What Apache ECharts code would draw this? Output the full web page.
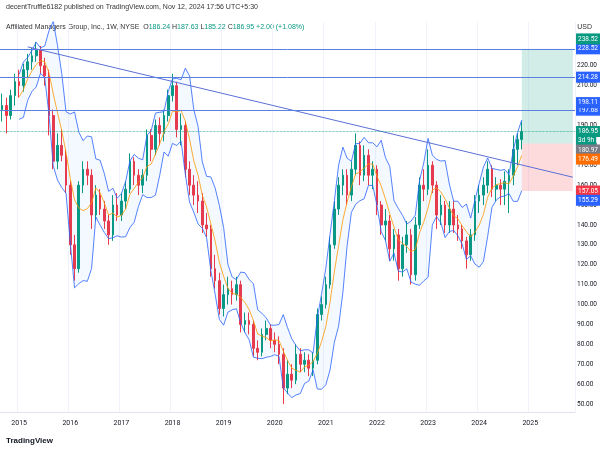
<!DOCTYPE html>
<html><head><meta charset="utf-8">
<script src="https://cdn.jsdelivr.net/npm/echarts@6/dist/echarts.min.js"></script>
<style>html,body{margin:0;padding:0;background:#fff}#c{width:600px;height:452px}</style>
</head><body><div id="c"></div>
<script>
const closes = [200,195,205,212,
210,218,222,225,228,220,215,195,172,180,175,160,
130,118,160,168,165,145,155,148,142,135,150,145,
152,158,172,165,160,165,185,178,190,186,195,205,
210,188,190,168,160,155,152,140,138,118,112,98,
105,108,105,110,90,92,90,78,76,85,88,82,
80,75,58,65,62,75,70,72,68,72,95,100,
110,130,148,160,165,155,168,180,165,175,165,168,
150,140,142,128,135,118,130,135,115,140,160,158,
170,160,145,150,140,148,140,138,132,125,135,152,
155,160,168,158,160,158,162,165,178,183,187];
const highs = [206,204,208,216,
218,221,226,229,232,230,224,218,198,186,188,178,
162,135,162,172,172,168,160,158,152,145,155,156,
156,162,176,174,168,168,188,188,193,194,198,208,
216,212,196,192,172,165,162,156,146,140,125,116,
110,114,112,114,112,96,96,92,82,88,92,90,
86,84,78,72,70,80,78,76,75,76,98,104,
114,134,152,164,168,168,172,186,182,180,178,172,
170,152,148,145,138,138,134,142,138,144,164,168,
178,172,162,155,152,152,152,145,140,134,138,155,
160,164,172,170,164,163,167,168,185,186,192];
const lows = [192,186,193,200,
204,207,214,218,222,216,210,185,168,168,172,156,
125,112,116,156,160,138,142,145,138,130,132,142,
142,148,156,160,155,156,162,172,175,180,182,192,
202,184,180,164,155,150,146,136,134,114,108,95,
94,100,100,102,86,86,85,74,72,74,82,78,
76,70,50,55,58,60,66,66,64,64,70,92,
98,108,128,145,155,150,152,165,160,162,160,158,
145,135,132,122,122,112,114,126,110,112,138,152,
155,156,138,140,136,136,136,132,128,118,122,132,
146,150,156,154,152,150,150,146,160,170,178];
const startYear = 2014, startMonth = 9, extraMonths = 12;
const tradeLevels = {tp3:228.52, tp2:214.28, tp1:197.68, last:186.95, entry:180.97, sl:157.05};

const cats = [];
{let y=startYear,m=startMonth; for(let i=0;i<closes.length+extraMonths;i++){cats.push(y+'-'+String(m).padStart(2,'0')); m++; if(m>12){m=1;y++;}}}
const candles = closes.map((c,i)=>[i?closes[i-1]:198, c, lows[i], highs[i]]);
const W=5, ma=[], up=[], lo=[], diff=[];
closes.forEach((c,i)=>{ if(i<W-1){ma.push('-');up.push('-');lo.push('-');diff.push('-');return;}
  const s=closes.slice(i-W+1,i+1); const m=s.reduce((a,b)=>a+b)/W;
  const sd=Math.sqrt(s.reduce((a,b)=>a+(b-m)*(b-m),0)/W);
  ma.push(m); up.push(m+1.8*sd); lo.push(m-1.8*sd); diff.push(3.6*sd);});

const lab=(txt,col)=>({show:true,position:'end',formatter:txt,backgroundColor:col,color:'#fff',fontSize:6.5,padding:[2,2],distance:1});
const badge=(v,col,txt)=>({yAxis:v,lineStyle:{color:'rgba(0,0,0,0)',width:0},label:lab(txt||v.toFixed(2),col)});
const hl=(v,col,type,w)=>({yAxis:v,lineStyle:{color:col,width:w||1,type:type||'solid'},label:lab(v.toFixed(2),col==='#5b7fe0'?'#2962ff':col)});
const chart=echarts.init(document.getElementById('c'));
chart.setOption({
  animation:false,
  textStyle:{fontFamily:'Roboto, sans-serif'},
  graphic:[
    {type:'text',left:6,top:4,style:{text:'decentTruffle6182 published on TradingView.com, Nov 12, 2024 17:56 UTC+5:30',fontSize:7,fill:'#333'}},
    {type:'text',left:6,top:24,style:{rich:{a:{fontSize:7,fill:'#333'},g:{fontSize:7,fill:'#089981'}},text:'{a|Affiliated Managers Group, Inc., 1W, NYSE  O}{g|186.24 }{a|H}{g|187.63 }{a|L}{g|185.22 }{a|C}{g|186.95 +2.00 (+1.08%)}'}},
    {type:'text',left:6,top:437,style:{text:'TradingView',fontSize:8,fill:'#131722',fontWeight:'bold'}},
    {type:'text',right:8,top:24,style:{text:'USD',fontSize:7,fill:'#333'}}
  ],
  grid:{left:0,right:22,top:22,bottom:40},
  xAxis:{type:'category',data:cats,boundaryGap:true,
    axisLine:{lineStyle:{color:'#e0e3eb'}},axisTick:{show:false},
    axisLabel:{fontSize:7,color:'#131722',interval:(i,v)=>v.endsWith('-01'),formatter:v=>v.slice(0,4)},
    splitLine:{show:true,interval:(i,v)=>v.endsWith('-01'),lineStyle:{color:'#f0f3fa'}}},
  yAxis:{type:'value',position:'right',min:46,max:242,interval:2,
    axisLine:{show:false},axisTick:{show:false},splitLine:{show:false},
    axisLabel:{fontSize:6.5,color:'#131722',margin:2,formatter:v=>(v%10===0&&v<=230)?v.toFixed(2):''}},
  series:[
    {type:'line',data:lo,stack:'bb',symbol:'none',lineStyle:{opacity:0},silent:true},
    {type:'line',data:diff,stack:'bb',symbol:'none',lineStyle:{opacity:0},areaStyle:{color:'rgba(33,150,243,0.08)'},silent:true},
    {type:'line',data:up,symbol:'none',lineStyle:{color:'#2962ff',width:0.8}},
    {type:'line',data:lo,symbol:'none',lineStyle:{color:'#2962ff',width:0.8}},
    {type:'line',data:ma,symbol:'none',lineStyle:{color:'#ff9800',width:0.8}},
    {type:'candlestick',data:candles,barMaxWidth:3,
      itemStyle:{color:'#089981',color0:'#f23645',borderColor:'#089981',borderColor0:'#f23645'},
      markArea:{silent:true,data:[
        [{xAxis:cats[closes.length-1],yAxis:tradeLevels.entry,itemStyle:{color:'rgba(8,153,129,0.18)'}},{xAxis:cats[cats.length-1],yAxis:tradeLevels.tp3}],
        [{xAxis:cats[closes.length-1],yAxis:tradeLevels.sl,itemStyle:{color:'rgba(242,54,69,0.18)'}},{xAxis:cats[cats.length-1],yAxis:tradeLevels.entry}]
      ]},
      markLine:{silent:true,symbol:'none',data:[
        [{coord:[cats[6],229.5],lineStyle:{color:'#5b6fd6',width:1,type:'solid'},label:{show:false}},{coord:[cats[cats.length-1],164]}],
        hl(tradeLevels.tp3,'#5b7fe0'),
        hl(tradeLevels.tp2,'#5b7fe0'),
        hl(tradeLevels.tp1,'#5b7fe0'),
        hl(tradeLevels.last,'#089981','dotted',0.7),
        badge(182.3,'#089981','3d 9h'),
        badge(177.7,'#787b86','180.97'),
        badge(173.1,'#ff6d00','176.49'),
        badge(tradeLevels.sl,'#f23645'),
        badge(152.4,'#2962ff','155.29'),
        badge(233.5,'#089981','238.52'),
        badge(201.5,'#2962ff','198.11')
      ]},
      markPoint:{symbol:'rect',symbolSize:1,itemStyle:{opacity:0},data:[
        {coord:[cats[cats.length-4],tradeLevels.tp3],label:{show:true,formatter:'TP3',fontSize:6,color:'#5b6fd6',offset:[0,-4]}},
        {coord:[cats[cats.length-4],tradeLevels.tp2],label:{show:true,formatter:'TP2',fontSize:6,color:'#5b6fd6',offset:[0,-4]}},
        {coord:[cats[cats.length-4],tradeLevels.tp1],label:{show:true,formatter:'TP1',fontSize:6,color:'#5b6fd6',offset:[0,-4]}},
        {coord:[cats[cats.length-4],tradeLevels.sl],label:{show:true,formatter:'SL',fontSize:6,color:'#5b6fd6',offset:[0,-4]}}
      ]}
    }
  ]
});
</script></body></html>
